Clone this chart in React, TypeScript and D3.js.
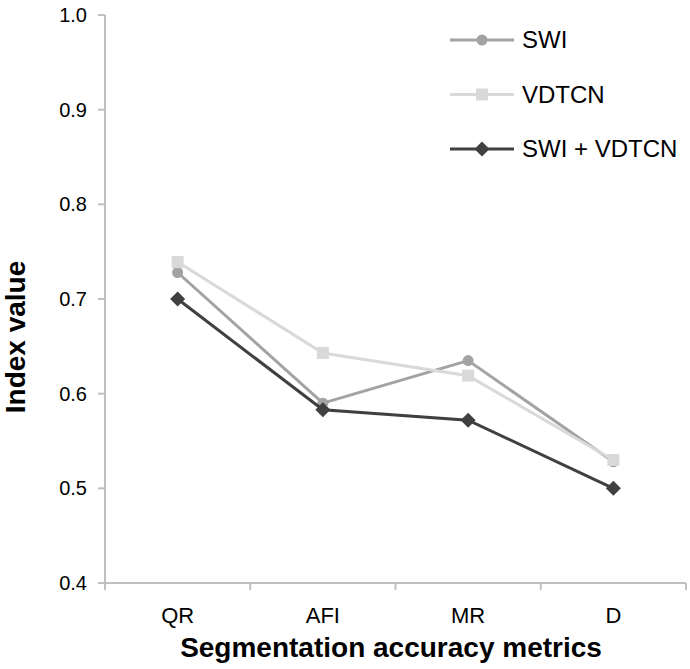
import React from "react";
import * as d3 from "d3";

const categories = ["QR", "AFI", "MR", "D"];
const swi = [0.728, 0.59, 0.635, 0.528];
const vdtcn = [0.739, 0.643, 0.619, 0.53];
const combined = [0.7, 0.583, 0.572, 0.5];
const yTicks = [0.4, 0.5, 0.6, 0.7, 0.8, 0.9, 1.0];
const seriesNames = ["SWI", "VDTCN", "SWI + VDTCN"];

const W = 690, H = 669;
const left = 105, right = 686, top = 15, bottom = 583;
const font = "Liberation Sans, Arial, sans-serif";

export default function App() {
  const x = d3.scaleBand<string>().domain(categories).range([left, right]);
  const y = d3.scaleLinear().domain([0.4, 1.0]).range([bottom, top]);
  const cx = (c: string) => (x(c) as number) + x.bandwidth() / 2;
  const line = d3.line<number>().x((_, i) => cx(categories[i])).y((v) => y(v));
  const series = [
    { name: seriesNames[0], values: swi, color: "#a3a3a3", shape: "circle" },
    { name: seriesNames[1], values: vdtcn, color: "#d9d9d9", shape: "square" },
    { name: seriesNames[2], values: combined, color: "#404040", shape: "diamond" },
  ];
  const marker = (shape: string, px: number, py: number, color: string, key: any) => {
    if (shape === "circle") return <circle key={key} cx={px} cy={py} r={5.5} fill={color} />;
    if (shape === "square") return <rect key={key} x={px - 6} y={py - 6} width={12} height={12} fill={color} />;
    const s = 7.5;
    return <path key={key} d={`M${px},${py - s}L${px + s},${py}L${px},${py + s}L${px - s},${py}Z`} fill={color} />;
  };
  const axisColor = "#bfbfbf";
  const boundaries = [...categories.map((c) => x(c) as number), right];
  return (
    <svg width={W} height={H} style={{ position: "absolute", left: 0, top: 0, background: "#fff" }} fontFamily={font}>
      <rect width={W} height={H} fill="#fff" />
      <line x1={left} x2={left} y1={top} y2={bottom} stroke={axisColor} strokeWidth={2} />
      {yTicks.map((t) => (
        <g key={t}>
          <line x1={left - 7} x2={left} y1={y(t)} y2={y(t)} stroke={axisColor} strokeWidth={2} />
          <text x={left - 18} y={y(t)} dy="0.35em" textAnchor="end" fontSize={20} fill="#000">{t.toFixed(1)}</text>
        </g>
      ))}
      <line x1={left} x2={right} y1={bottom} y2={bottom} stroke={axisColor} strokeWidth={2} />
      {boundaries.map((b, i) => (
        <line key={i} x1={b} x2={b} y1={bottom} y2={bottom + 7} stroke={axisColor} strokeWidth={2} />
      ))}
      {categories.map((c) => (
        <text key={c} x={cx(c)} y={623} textAnchor="middle" fontSize={22} fill="#000">{c}</text>
      ))}
      <text x={391} y={657} textAnchor="middle" fontSize={28} fontWeight="bold" fill="#000">Segmentation accuracy metrics</text>
      <text transform={`translate(25,337) rotate(-90)`} textAnchor="middle" fontSize={28} fontWeight="bold" fill="#000">Index value</text>
      {series.map((s) => (
        <g key={s.name}>
          <path d={line(s.values) as string} fill="none" stroke={s.color} strokeWidth={3} />
          {s.values.map((v, i) => marker(s.shape, cx(categories[i]), y(v), s.color, i))}
        </g>
      ))}
      {series.map((s, i) => {
        const ly = 40 + i * 54.5;
        return (
          <g key={s.name}>
            <line x1={450} x2={514} y1={ly} y2={ly} stroke={s.color} strokeWidth={3} />
            {marker(s.shape, 482, ly, s.color, "m")}
            <text x={522} y={ly} dy="0.35em" fontSize={24} fill="#000">{s.name}</text>
          </g>
        );
      })}
    </svg>
  );
}
